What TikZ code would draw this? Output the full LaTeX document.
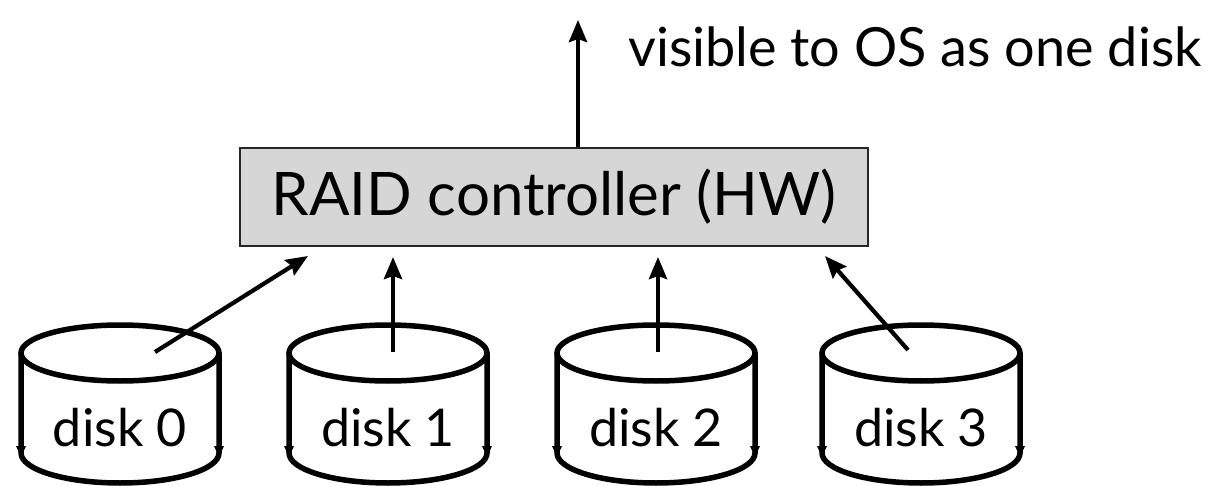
\documentclass[tikz,border=0pt]{standalone}
\usepackage{fontspec}
\setmainfont{Lato}
\usetikzlibrary{arrows.meta}
\tikzset{
  lbl/.style={font=\fontsize{52}{60}\selectfont, inner sep=0pt},
  vislbl/.style={font=\fontsize{54}{60}\selectfont, inner sep=0pt},
  ctrl/.style={draw=black!85, line width=1.5pt, fill=black!16, minimum width=628pt, minimum height=98pt, font=\fontsize{60}{66}\selectfont, inner sep=0pt},
  cyl/.style={line width=5.5pt},
  conn/.style={line width=4.2pt, -{Stealth[length=22pt,width=18pt,inset=3pt]}},
}
\begin{document}
\begin{tikzpicture}[x=1pt,y=-1pt]
\useasboundingbox (0,0) rectangle (1220,486);
\node[ctrl] (raid) at (554,197) {RAID controller (HW)};
\coordinate (os) at (578,20);
\node[vislbl, anchor=west] (vis) at (628,47) {visible to OS as one disk};
\draw[conn] (raid.north -| os) -- (os);
\foreach \cx/\nm/\t in {120/d0/disk 0, 388/d1/disk 1, 656/d2/disk 2, 921/d3/disk 3} {
  \draw[cyl] (\cx,353) ellipse [x radius=99, y radius=28];
  \draw[cyl] (\cx-99,353) -- (\cx-99,453) arc[start angle=180,end angle=0,x radius=99,y radius=30] -- (\cx+99,353);
  \fill (\cx-99-5,446) -- (\cx-99+5,446) -- (\cx-99,457) -- cycle;
  \fill (\cx+99-5,446) -- (\cx+99+5,446) -- (\cx+99,457) -- cycle;
  \node[lbl] (\nm) at (\cx,428) {\t};
}
\coordinate (s0) at (155,352);
\coordinate (e0) at (308,256);
\coordinate (s1) at (393,352);
\coordinate (e1) at (393,257);
\coordinate (s2) at (658,352);
\coordinate (e2) at (658,257);
\coordinate (s3) at (908,350);
\coordinate (e3) at (825,256);
\draw[conn] (s0) -- (e0);
\draw[conn] (s1) -- (e1);
\draw[conn] (s2) -- (e2);
\draw[conn] (s3) -- (e3);
\end{tikzpicture}
\end{document}
